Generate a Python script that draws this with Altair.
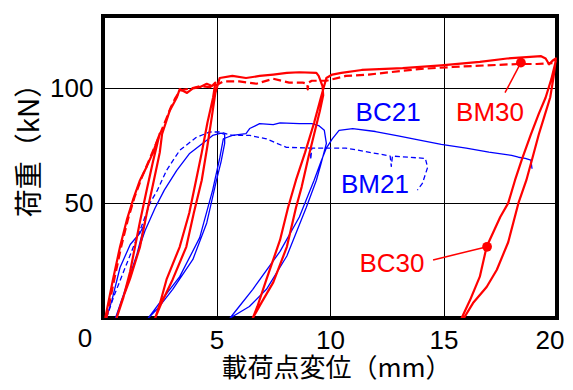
import altair as alt
import pandas as pd

# ---- data (x: displacement mm, y: load kN) ----
BC30_x = [0.10, 0.44, 0.75, 1.05, 1.32, 1.63, 1.93, 2.20, 2.50,
          2.20, 1.93, 1.63, 1.19, 0.90, 0.60,
          0.85, 1.19, 1.63, 1.93, 2.20, 2.50, 2.60, 2.94, 3.25, 3.38, 3.70, 3.96, 4.26, 4.57, 4.80, 4.95,
          4.85, 4.60, 4.35, 4.10, 3.80, 3.38, 2.80, 2.50, 2.30,
          2.55, 3.07, 3.67, 4.00, 4.35, 4.60, 4.80, 4.95, 5.14, 5.70, 6.30, 6.90, 7.50, 8.10, 8.65, 9.40, 9.50, 9.67, 9.70,
          9.55, 9.30, 9.05, 8.75, 8.50, 8.10, 7.50, 7.00, 6.60,
          6.80, 7.20, 7.80, 8.15, 8.50, 8.90, 9.30, 9.60, 9.84, 10.1, 10.5, 11.4, 13.2, 14.9, 16.6, 17.8, 19.3, 19.5, 19.65, 19.8, 19.95,
          19.85, 19.7, 19.45, 19.2, 18.9, 18.65, 18.3, 17.85, 17.35, 16.9, 16.3, 15.9,
          15.8, 16.17, 16.6, 16.9, 17.5, 17.85, 18.15, 18.45, 18.85, 19.2, 19.5, 19.75, 19.95]
BC30_y = [0, 16.8, 31, 42.7, 51.4, 60, 66, 72, 80.3,
          68, 56, 42, 20, 9, 0,
          8, 17, 31, 45.7, 58, 72, 80, 90.3, 96, 99.7, 98, 100, 100.5, 102, 101, 102.5,
          96, 85, 72, 60, 45.7, 31, 16.8, 6, 0,
          6, 16.8, 31, 45.7, 60, 75, 88, 98, 104.5, 105.4, 104.5, 105.4, 106, 106.7, 107, 106.7, 105.4, 101, 97,
          90, 80, 70, 57, 48, 31, 15.5, 7, 0,
          5, 16.8, 34, 48, 60, 72, 85, 96, 104.5, 106, 106.7, 108, 108.8, 110, 111.5, 113, 114, 113, 110.5, 112, 113,
          105, 96, 88, 80, 69, 60, 50, 33, 21, 13.5, 6.5, 0,
          0, 7.8, 18, 31, 44, 50, 60, 69, 80, 89, 96, 104, 112]

BM30_x = [0.15, 0.50, 0.80, 1.10, 1.40, 1.70, 2.00, 2.30, 2.55, 2.80, 3.00, 3.20, 3.40, 3.60, 3.90, 4.30, 4.70,
          5.00, 5.30, 6.00, 6.76, 7.50, 8.20, 8.80, 9.00, 9.02, 9.05, 9.20, 9.84, 10.7, 11.7, 13.9, 15.4, 16.9,
          18.3, 19.1, 19.8]
BM30_y = [0, 17, 31, 43, 53, 61, 68, 75, 81, 87, 92, 96, 99, 99.5, 100, 101, 100.5,
          101.5, 103, 103, 102, 104.2, 102.5, 102.5, 102, 99.5, 102.5, 103.3, 103.3, 105.4, 106, 108.4, 109.3, 110,
          110.6, 110.6, 111]

BC21_x = [0.15, 0.40, 0.75, 1.20, 1.63, 1.85,
          1.50, 1.00, 0.55,
          0.90, 1.40, 1.85, 2.30, 2.70, 3.25, 3.80, 4.57, 4.83, 5.20, 5.36, 5.36,
          5.20, 5.00, 4.57, 3.96, 3.07, 2.40, 2.00,
          2.60, 3.38, 4.26, 4.83, 5.15, 5.30, 5.45, 5.70, 6.30, 6.46, 6.90, 7.50, 7.80, 8.65, 9.20, 9.50, 9.75, 9.84,
          9.60, 9.40, 8.95, 8.10, 7.20, 6.45, 5.60,
          6.00, 6.60, 7.80, 8.65, 9.30, 9.60, 9.84, 10.1, 10.4, 11.0, 12.0, 13.0, 14.0, 14.9, 16.0, 17.0, 18.0, 18.3,
          18.6, 18.85, 18.9]
BC21_y = [0, 8, 22, 32, 37, 41.4,
          28, 12, 0,
          10, 25, 38, 48, 55.7, 64.3, 71.5, 77.4, 79.5, 80.5, 80, 76,
          68, 60, 41.4, 25.5, 12.5, 4, 0,
          8, 18, 35, 55.7, 70, 78, 78.6, 79.5, 80.3, 82.5, 84.6, 84.2, 85, 84.6, 84.6, 83.8, 81.7, 76,
          67, 60, 48, 27, 12.5, 5, 0,
          5, 12.5, 29, 44, 60, 68, 74, 78, 81.7, 82.5, 81.2, 79.3, 77.3, 75.6, 74, 72.2, 70.8, 70,
          69.5, 68.7, 65]

BM21_x = [0.15, 0.50, 0.90, 1.30, 1.70, 2.07, 2.40, 2.80, 3.38, 4.10, 4.70, 5.14, 5.70, 6.46, 7.20, 8.08,
          9.15, 9.15, 9.20, 9.84, 10.7, 12.5, 12.65, 12.70, 12.75, 14.2, 14.3, 14.07, 13.85]
BM21_y = [0, 10, 20, 30, 40, 50, 55.7, 64.3, 73, 78.6, 81, 81, 79.5, 79.5, 78, 74.3,
          74, 69, 74, 74, 74, 70.8, 70.5, 66, 70.5, 69.5, 65.6, 58.6, 55.7]

LABELS = ["BC21", "BM30", "BM21", "BC30"]
LABEL_X = [12.56, 17.05, 11.98, 12.73]
LABEL_Y = [89.4, 89.4, 58.0, 23.5]
LABEL_COLOR = ["#0000ff", "#ff0000", "#0000ff", "#ff0000"]

LEADER_X1 = [17.71, 14.54]
LEADER_Y1 = [98.1, 25.3]
LEADER_X2 = [18.41, 16.92]
LEADER_Y2 = [111.2, 31.0]

X_TICKS = [5, 10, 15, 20]
Y_TICKS = [50, 100]

X_TITLE = "載荷点変位（mm）"
Y_TITLE = "荷重（kN）"

RED = "#ff0000"
BLUE = "#0000ff"

xs = alt.Scale(domain=[0, 20], nice=False, zero=False)
ys = alt.Scale(domain=[0, 131.5], nice=False, zero=False)

LABEL_FONT = "Liberation Sans"
TITLE_FONT = "Noto Sans CJK JP"

xaxis = alt.Axis(values=X_TICKS, title=X_TITLE, ticks=False, domain=False,
                 labelFont=LABEL_FONT, labelFontSize=26, labelColor="black", labelPadding=9,
                 labelFlush=True, labelFlushOffset=7, labelOverlap=False, format="d",
                 grid=True, gridColor="black", gridWidth=1, gridOpacity=1,
                 titleFont=TITLE_FONT, titleFontSize=26, titleFontWeight="normal", titleColor="black",
                 titlePadding=2, titleX=233)
yaxis = alt.Axis(values=Y_TICKS, title=Y_TITLE, ticks=False, domain=False,
                 labelFont=LABEL_FONT, labelFontSize=26, labelColor="black", labelPadding=10,
                 labelOverlap=False, format="d",
                 grid=True, gridColor="black", gridWidth=1, gridOpacity=1,
                 titleFont=TITLE_FONT, titleFontSize=28, titleFontWeight="normal", titleColor="black",
                 titlePadding=5, titleY=127)


def frame(xv, yv):
    return pd.DataFrame({"i": list(range(len(xv))), "x": xv, "y": yv})


def line_layer(xv, yv, color, width, dash=None):
    kw = dict(color=color, strokeWidth=width, clip=True, strokeJoin="round")
    if dash:
        kw["strokeDash"] = dash
    return alt.Chart(frame(xv, yv)).mark_line(**kw).encode(
        x=alt.X("x:Q", scale=xs, axis=xaxis),
        y=alt.Y("y:Q", scale=ys, axis=yaxis),
        order=alt.Order("i:Q"),
    )


bc21 = line_layer(BC21_x, BC21_y, BLUE, 1.3)
bm21 = line_layer(BM21_x, BM21_y, BLUE, 1.3, [5, 3])
bm30 = line_layer(BM30_x, BM30_y, RED, 2.2, [8, 4])
bc30 = line_layer(BC30_x, BC30_y, RED, 2.2)

lab_df = pd.DataFrame({"t": LABELS, "x": LABEL_X, "y": LABEL_Y, "c": LABEL_COLOR})
labels = alt.Chart(lab_df).mark_text(font=LABEL_FONT, fontSize=26, align="center", baseline="middle").encode(
    x=alt.X("x:Q", scale=xs, axis=xaxis),
    y=alt.Y("y:Q", scale=ys, axis=yaxis),
    text="t:N",
    color=alt.Color("c:N", scale=None),
)

lead_df = pd.DataFrame({"x": LEADER_X1, "y": LEADER_Y1, "x2": LEADER_X2, "y2": LEADER_Y2})
leaders = alt.Chart(lead_df).mark_rule(color=RED, strokeWidth=1.5).encode(
    x=alt.X("x:Q", scale=xs, axis=xaxis),
    y=alt.Y("y:Q", scale=ys, axis=yaxis),
    x2="x2:Q",
    y2="y2:Q",
)
dots = alt.Chart(lead_df).mark_point(filled=True, color=RED, size=95, opacity=1, shape="circle").encode(
    x=alt.X("x2:Q", scale=xs, axis=xaxis),
    y=alt.Y("y2:Q", scale=ys, axis=yaxis),
)

zero_df = pd.DataFrame({"x": [0], "y": [0], "t": ["0"]})
zero = alt.Chart(zero_df).mark_text(font=LABEL_FONT, fontSize=26, align="center", baseline="middle",
                                    dx=-18, dy=21, color="black").encode(
    x=alt.X("x:Q", scale=xs, axis=xaxis),
    y=alt.Y("y:Q", scale=ys, axis=yaxis),
    text="t:N",
)

chart = alt.layer(bc21, bm21, bm30, bc30, leaders, dots, labels, zero).properties(
    width=454, height=302,
    autosize=alt.AutoSizeParams(type="none"),
    padding={"left": 95, "top": 8, "right": 8, "bottom": 66},
    background="white",
).configure_view(stroke="black", strokeWidth=4)

chart.save("out.html", embed_options={"renderer": "svg", "actions": False})
